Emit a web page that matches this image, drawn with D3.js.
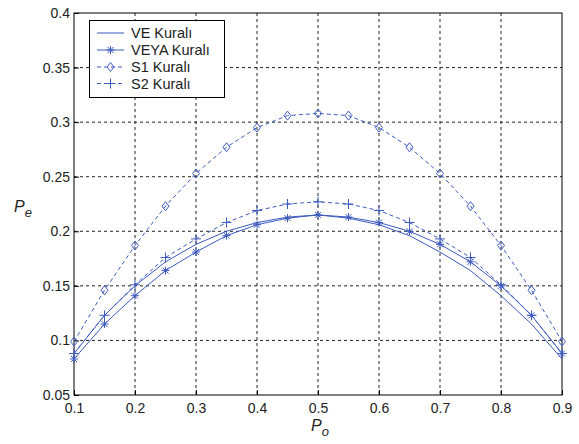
<!DOCTYPE html>
<html>
<head>
<meta charset="utf-8">
<script src="https://cdn.jsdelivr.net/npm/d3@7"></script>
<style>
  body { margin: 0; background: #fff; }
  svg text { font-family: "Liberation Sans", Arial, sans-serif; }
</style>
</head>
<body>
<svg width="579" height="444"></svg>
<script>
// Data
const po = [0.1, 0.15, 0.2, 0.25, 0.3, 0.35, 0.4, 0.45, 0.5, 0.55, 0.6, 0.65, 0.7, 0.75, 0.8, 0.85, 0.9];
const veya = [0.083, 0.115, 0.141, 0.164, 0.181, 0.196, 0.206, 0.212, 0.215, 0.213, 0.208, 0.200, 0.188, 0.172, 0.150, 0.123, 0.088];
const ve = veya.slice().reverse();
const s1 = [0.099, 0.146, 0.187, 0.223, 0.253, 0.277, 0.295, 0.306, 0.308, 0.306, 0.295, 0.277, 0.253, 0.223, 0.187, 0.146, 0.099];
const s2 = [0.088, 0.123, 0.151, 0.176, 0.193, 0.208, 0.219, 0.225, 0.227, 0.225, 0.219, 0.208, 0.193, 0.176, 0.151, 0.123, 0.088];
const xTicks = [0.1, 0.2, 0.3, 0.4, 0.5, 0.6, 0.7, 0.8, 0.9];
const yTicks = [0.05, 0.1, 0.15, 0.2, 0.25, 0.3, 0.35, 0.4];
const seriesNames = ["VE Kuralı", "VEYA Kuralı", "S1 Kuralı", "S2 Kuralı"];

const lineColor = '#3d5bbf';
const textColor = '#222';
const plotLeft = 74, plotRight = 562, plotTop = 13, plotBottom = 395;

const svg = d3.select('svg');
const x = d3.scaleLinear().domain([0.1, 0.9]).range([plotLeft, plotRight]);
const y = d3.scaleLinear().domain([0.05, 0.4]).range([plotBottom, plotTop]);

// Grid (dotted)
const grid = svg.append('g').attr('class', 'grid');
grid.selectAll('line.gx')
    .data(xTicks.slice(1, -1))
    .join('line')
    .attr('x1', d => x(d)).attr('x2', d => x(d))
    .attr('y1', plotTop).attr('y2', plotBottom)
    .attr('stroke', '#222').attr('stroke-dasharray', '3,3');
grid.selectAll('line.gy')
    .data(yTicks.slice(1, -1))
    .join('line')
    .attr('y1', d => y(d)).attr('y2', d => y(d))
    .attr('x1', plotLeft).attr('x2', plotRight)
    .attr('stroke', '#222').attr('stroke-dasharray', '3,3');

// Axes, ticks inward
const xAxis = d3.axisBottom(x).tickValues(xTicks).tickSize(-5).tickPadding(8).tickFormat(d3.format('.1f'));
const yAxis = d3.axisLeft(y).tickValues(yTicks).tickSize(-5).tickPadding(4).tickFormat(d => String(+d.toFixed(2)));

svg.append('g').attr('transform', `translate(0,${plotBottom})`).call(xAxis)
    .call(g => g.select('.domain').remove())
    .selectAll('text').attr('font-size', 14).attr('fill', textColor);
svg.append('g').attr('transform', `translate(${plotLeft},0)`).call(yAxis)
    .call(g => g.select('.domain').remove())
    .selectAll('text').attr('font-size', 14).attr('fill', textColor);

// box
svg.append('rect')
    .attr('x', plotLeft).attr('y', plotTop)
    .attr('width', plotRight - plotLeft).attr('height', plotBottom - plotTop)
    .attr('fill', 'none').attr('stroke', '#000');

// Axis labels
const xl = svg.append('text').attr('x', 320).attr('y', 431)
    .attr('text-anchor', 'middle').attr('fill', textColor)
    .attr('font-style', 'italic').attr('font-size', 16);
xl.append('tspan').text('P');
xl.append('tspan').attr('dy', 5).attr('font-size', 13).text('o');

const yl = svg.append('text').attr('x', 14).attr('y', 212).attr('fill', textColor)
    .attr('font-style', 'italic').attr('font-size', 16);
yl.append('tspan').text('P');
yl.append('tspan').attr('dy', 5).attr('font-size', 13).text('e');

// Markers
function asterisk(g) {
    g.append('path').attr('d', 'M-4,0H4M0,-4V4M-3,-3L3,3M-3,3L3,-3')
        .attr('stroke', lineColor).attr('fill', 'none');
}
function diamond(g) {
    g.append('path').attr('d', 'M0,-4.5L3.5,0L0,4.5L-3.5,0Z')
        .attr('stroke', lineColor).attr('fill', 'none');
}
function plus(g) {
    g.append('path').attr('d', 'M-5,0H5M0,-5V5')
        .attr('stroke', lineColor).attr('fill', 'none');
}

const series = [
    { name: seriesNames[0], values: ve, dash: null, marker: null },
    { name: seriesNames[1], values: veya, dash: null, marker: asterisk },
    { name: seriesNames[2], values: s1, dash: '4,3', marker: diamond },
    { name: seriesNames[3], values: s2, dash: '4,3', marker: plus }
];

const line = d3.line().x(d => x(d[0])).y(d => y(d[1]));
const plot = svg.append('g');
series.forEach(s => {
    const pts = po.map((p, i) => [p, s.values[i]]);
    plot.append('path').datum(pts)
        .attr('d', line)
        .attr('fill', 'none')
        .attr('stroke', lineColor)
        .attr('stroke-width', 1)
        .attr('stroke-dasharray', s.dash);
    if (s.marker) {
        plot.selectAll(null).data(pts).join('g')
            .attr('transform', d => `translate(${x(d[0])},${y(d[1])})`)
            .each(function () { s.marker(d3.select(this)); });
    }
});

// Legend
const legend = svg.append('g');
legend.append('rect')
    .attr('x', 89.5).attr('y', 20.5).attr('width', 135).attr('height', 77)
    .attr('fill', '#fff').attr('stroke', '#000');
const rowY = [33, 50, 67, 83.5];
series.forEach((s, i) => {
    const gy = rowY[i];
    legend.append('line')
        .attr('x1', 97).attr('x2', 124).attr('y1', gy).attr('y2', gy)
        .attr('stroke', lineColor).attr('stroke-dasharray', s.dash);
    if (s.marker) {
        const g = legend.append('g').attr('transform', `translate(110.5,${gy})`);
        s.marker(g);
    }
    legend.append('text')
        .attr('x', 131).attr('y', gy + 5)
        .attr('font-size', 14.5).attr('fill', textColor)
        .text(s.name);
});
</script>
</body>
</html>
